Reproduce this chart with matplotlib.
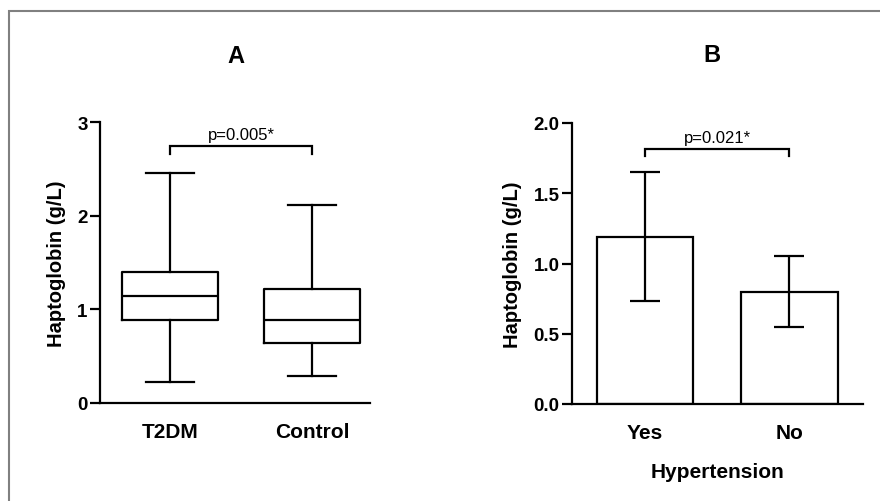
import matplotlib
matplotlib.use("Agg")
import matplotlib.pyplot as plt
from matplotlib.patches import Rectangle

plt.rcParams['font.family'] = ['Liberation Sans', 'DejaVu Sans']

# panel A: box plot summary (min, q1, median, q3, max)
groups_a = ['T2DM', 'Control']
whislo_a = [0.22, 0.29]
q1_a = [0.885, 0.64]
med_a = [1.14, 0.885]
q3_a = [1.40, 1.22]
whishi_a = [2.455, 2.11]
p_a = 'p=0.005*'

# panel B: mean with error bars
groups_b = ['Yes', 'No']
mean_b = [1.19, 0.80]
err_b = [0.46, 0.255]
p_b = 'p=0.021*'

W, H = 880, 502
fig = plt.figure(figsize=(W / 100, H / 100), dpi=100)
# grey frame, only top and left edges fall inside the canvas
fig.add_artist(Rectangle((9 / W, -0.1), 1, 1.1 - 12 / H, transform=fig.transFigure,
                         fill=False, edgecolor='#808080', linewidth=1.5))

def px_axes(left, right, top, bottom):
    return fig.add_axes([left / W, 1 - bottom / H, (right - left) / W, (bottom - top) / H])

lw = 1.6

def style(ax):
    for s in ['top', 'right']:
        ax.spines[s].set_visible(False)
    for s in ['left', 'bottom']:
        ax.spines[s].set_linewidth(lw)
    ax.tick_params(axis='y', length=7, width=lw, labelsize=13.5, pad=2)
    ax.tick_params(axis='x', length=0, labelsize=15, pad=14)
    for lab in ax.get_xticklabels() + ax.get_yticklabels():
        lab.set_fontweight('bold')
    ax.set_ylabel('Haptoglobin (g/L)', fontsize=14.5, fontweight='bold', labelpad=8)

def bracket(ax, x1, x2, y, drop, text):
    ax.plot([x1, x1, x2, x2], [y - drop, y, y, y - drop], color='black', lw=lw,
            clip_on=False, solid_joinstyle='miter')
    ax.text((x1 + x2) / 2, y + drop * 0.5, text, ha='center', va='bottom', fontsize=12)

# A
ax1 = px_axes(100, 370, 123, 404)
stats = []
for i in range(len(groups_a)):
    stats.append(dict(whislo=whislo_a[i], q1=q1_a[i], med=med_a[i], q3=q3_a[i],
                      whishi=whishi_a[i], fliers=[]))
ax1.bxp(stats, positions=[1, 2], widths=0.676, showfliers=False,
        boxprops=dict(linewidth=lw), medianprops=dict(color='black', linewidth=lw),
        whiskerprops=dict(linewidth=lw), capprops=dict(linewidth=lw), capwidths=0.34)
ax1.set_xlim(0.507, 2.408)
ax1.set_ylim(0, 3)
ax1.set_yticks([0, 1, 2, 3])
ax1.set_xticks([1, 2])
ax1.set_xticklabels(groups_a)
style(ax1)
bracket(ax1, 1, 2, 2.74, 0.085, p_a)
ax1.set_title('A', fontsize=17, fontweight='bold', pad=0, x=(236 - 100) / 270, y=1.215)

# B
ax2 = px_axes(572, 863, 124, 405)
ax2.bar([1, 2], mean_b, width=0.67, color='white', edgecolor='black', linewidth=lw)
ax2.errorbar([1, 2], mean_b, yerr=err_b, fmt='none', ecolor='black', elinewidth=lw,
             capsize=10.5, capthick=lw)
ax2.set_xlim(0.495, 2.509)
ax2.set_ylim(0, 2.0)
ax2.set_yticks([0, 0.5, 1.0, 1.5, 2.0])
ax2.set_yticklabels(['0.0', '0.5', '1.0', '1.5', '2.0'])
ax2.set_xticks([1, 2])
ax2.set_xticklabels(groups_b)
style(ax2)
ax2.set_xlabel('Hypertension', fontsize=15, fontweight='bold', labelpad=14)
bracket(ax2, 1, 2, 1.815, 0.05, p_b)
ax2.set_title('B', fontsize=17, fontweight='bold', pad=0, x=(712 - 572) / 291, y=1.22)

fig.savefig('out.png', dpi=100)
